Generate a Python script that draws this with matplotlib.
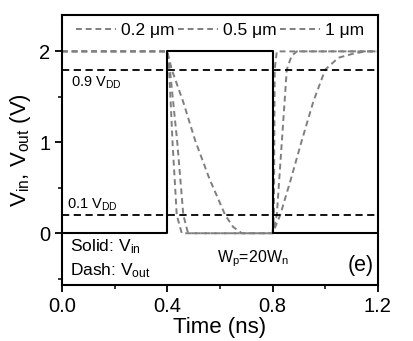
import numpy as np
import matplotlib.pyplot as plt
from matplotlib.ticker import MultipleLocator

plt.rcParams['font.family'] = ['Liberation Sans', 'DejaVu Sans']
plt.rcParams['mathtext.fontset'] = 'custom'
plt.rcParams['mathtext.rm'] = 'Liberation Sans'
plt.rcParams['mathtext.it'] = 'Liberation Sans'

# input pulse (solid)
t_in = [0.0, 0.4, 0.4, 0.8, 0.8, 1.2]
v_in = [0, 0, 2, 2, 0, 0]

# output waveforms for three gate lengths (dashed)
t_02 = [0.0, 0.4, 0.407, 0.42, 0.436, 0.455, 0.8, 0.805, 0.808, 0.816, 1.2]
v_02 = [2, 2, 1.8, 1.0, 0.2, 0, 0, 0.2, 1.8, 2, 2]

t_05 = [0.0, 0.4, 0.41, 0.438, 0.461, 0.479, 0.8, 0.816, 0.835, 0.854, 0.872, 0.892, 1.2]
v_05 = [2, 2, 1.8, 1.0, 0.2, 0, 0, 0.2, 1.0, 1.8, 1.95, 2, 2]

t_1 = [0.0, 0.4, 0.417, 0.46, 0.506, 0.56, 0.62, 0.65, 0.683, 0.8, 0.829, 0.87, 0.911,
       0.955, 1.0, 1.05, 1.1, 1.152, 1.2]
v_1 = [2, 2, 1.8, 1.45, 1.02, 0.6, 0.2, 0.07, 0, 0, 0.2, 0.6, 1.02,
       1.45, 1.8, 1.93, 1.97, 2.0, 2.0]

vdd = 2.0
levels = [0.9, 0.1]
widths = ['0.2 \u03bcm', '0.5 \u03bcm', '1 \u03bcm']

fig = plt.figure(figsize=(4.13, 3.41), dpi=100)
ax = fig.add_axes([0.150, 0.164, 0.765, 0.792])

gray = '#7f7f7f'
dash = (0, (3, 2))
for t, v, lab in zip([t_02, t_05, t_1], [v_02, v_05, v_1], widths):
    ax.plot(t, v, color=gray, lw=1.4, linestyle=dash, label=lab)

ax.plot(t_in, v_in, color='black', lw=1.5)
for lv in levels:
    ax.axhline(lv * vdd, color='black', lw=1.3, linestyle=(0, (4, 2.5)))

ax.text(0.035, 1.65, '0.9 V$_{DD}$', fontsize=10.5, va='center')
ax.text(0.02, 0.31, '0.1 V$_{DD}$', fontsize=10.5, va='center')
ax.text(0.03, -0.15, 'Solid: V$_{in}$', fontsize=12.5, va='center')
ax.text(0.03, -0.41, 'Dash: V$_{out}$', fontsize=12.5, va='center')
ax.text(0.59, -0.28, 'W$_p$=20W$_n$', fontsize=11.5, va='center')
ax.text(1.185, -0.36, '(e)', fontsize=15.5, va='center', ha='right')

ax.legend(loc='upper center', ncol=3, frameon=False, fontsize=12.5,
          handlelength=2.3, handletextpad=0.3, columnspacing=0.2,
          bbox_to_anchor=(0.5, 1.03))

ax.set_xlim(0, 1.2)
ax.set_ylim(-0.57, 2.4)
ax.xaxis.set_major_locator(MultipleLocator(0.4))
ax.xaxis.set_minor_locator(MultipleLocator(0.2))
ax.yaxis.set_major_locator(MultipleLocator(1))
ax.yaxis.set_minor_locator(MultipleLocator(0.5))
ax.set_xticks([0.0, 0.4, 0.8, 1.2])
ax.set_xticklabels(['0.0', '0.4', '0.8', '1.2'])
ax.tick_params(which='major', length=5, width=1.3, labelsize=14.5)
ax.tick_params(which='minor', length=3, width=1.1)
for s in ax.spines.values():
    s.set_linewidth(1.5)

ax.set_xlabel('Time (ns)', fontsize=16, labelpad=1)
ax.set_ylabel('V$_{in}$, V$_{out}$ (V)', fontsize=16, labelpad=4)

fig.savefig('out.png', dpi=100)
